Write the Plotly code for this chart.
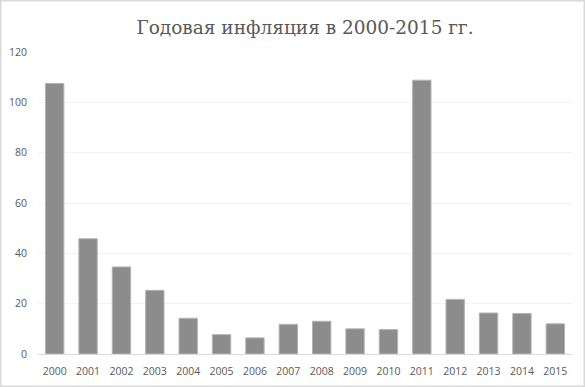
import plotly.graph_objects as go

years = ["2000", "2001", "2002", "2003", "2004", "2005", "2006", "2007",
         "2008", "2009", "2010", "2011", "2012", "2013", "2014", "2015"]
inflation = [107.5, 45.8, 34.6, 25.3, 14.2, 7.7, 6.4, 11.8,
             13.0, 10.0, 9.7, 108.8, 21.7, 16.3, 16.1, 12.0]
title_text = "Годовая инфляция в 2000-2015 гг."

W, H = 585, 387
ml, mr, mt, mb = 38, 13, 52, 33

fig = go.Figure(go.Bar(
    x=years, y=inflation,
    marker=dict(color="#8c8c8c", line=dict(color="#b4b4b4", width=1)),
    hoverinfo="x+y",
))

pw = W - ml - mr
ph = H - mt - mb
def px_x(p):
    return (p - ml) / pw
def px_y(p):
    return (H - mb - p) / ph

tick_font = dict(family="Open Sans, sans-serif", size=10.5, color="#595959")

fig.update_layout(
    width=W, height=H,
    margin=dict(l=ml, r=mr, t=mt, b=mb, autoexpand=False),
    paper_bgcolor="white", plot_bgcolor="white",
    bargap=0.45,
    showlegend=False,
    title=dict(text=title_text, x=0.5, xref="paper", xanchor="center",
               y=1 - 28 / H, yanchor="middle",
               font=dict(family="DejaVu Serif, Liberation Serif, serif", size=18.5, color="#595959")),
    xaxis=dict(showgrid=False, showline=True, linecolor="#d9d9d9", linewidth=1,
               ticks="", tickfont=tick_font, ticklabelstandoff=7,
               fixedrange=True),
    yaxis=dict(range=[0, 120], dtick=20, showgrid=True, gridcolor="#f2f2f2",
               zeroline=False, showline=False, ticks="",
               tickfont=tick_font, ticklabelstandoff=10, fixedrange=True),
    shapes=[dict(type="rect", xref="paper", yref="paper",
                 x0=px_x(0.75), x1=px_x(W - 0.75), y0=px_y(H - 0.75), y1=px_y(0.75),
                 line=dict(color="#d9d9d9", width=1.5), fillcolor="rgba(0,0,0,0)", layer="below")],
)

fig.write_html("out.html", config={"displayModeBar": False},
               post_script="document.body.style.margin='0';document.body.style.padding='0';document.body.style.overflow='hidden';")
